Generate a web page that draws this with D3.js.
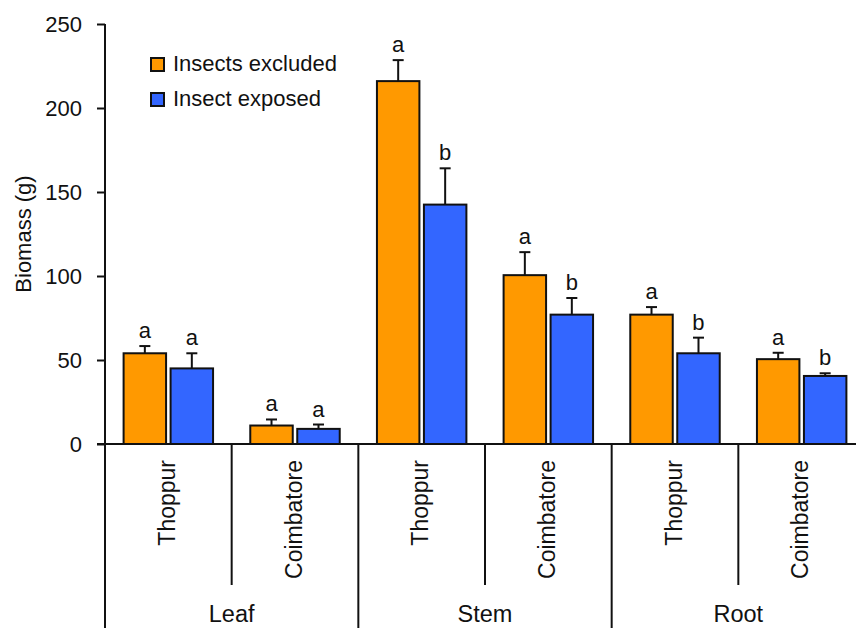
<!DOCTYPE html>
<html>
<head>
<meta charset="utf-8">
<script src="https://cdn.jsdelivr.net/npm/d3@7"></script>
<style>
  html, body { margin: 0; padding: 0; background: #fff; }
  svg { display: block; }
  text { font-family: Arial, "Liberation Sans", sans-serif; fill: #111; }
</style>
</head>
<body>
<script>
// ---- data ----
const organs = ["Leaf", "Stem", "Root"];
const sites = ["Thoppur", "Coimbatore"];
const seriesNames = ["Insects excluded", "Insect exposed"];
const excludedMeans = [54, 11, 216, 100.5, 77, 50.5];
const excludedErr   = [4.3, 3.6, 12.5, 13.7, 4.5, 3.8];
const exposedMeans  = [45, 9, 142.5, 77, 54, 40.5];
const exposedErr    = [9, 2.6, 21.6, 9.9, 9.3, 1.6];
const excludedLetters = ["a", "a", "a", "a", "a", "a"];
const exposedLetters  = ["a", "a", "b", "b", "b", "b"];
const yTicks = [0, 50, 100, 150, 200, 250];
const seriesColors = ["#FF9900", "#3366FF"];

// ---- build table ----
const cells = [];
organs.forEach(o => sites.forEach(s => cells.push({ organ: o, site: s, key: o + "|" + s })));
const rows = [];
cells.forEach((c, i) => {
  rows.push({ key: c.key, series: seriesNames[0], mean: excludedMeans[i], err: excludedErr[i], letter: excludedLetters[i] });
  rows.push({ key: c.key, series: seriesNames[1], mean: exposedMeans[i], err: exposedErr[i], letter: exposedLetters[i] });
});

const W = 856, H = 628;
const svg = d3.select("body").append("svg").attr("width", W).attr("height", H);

const axisX = 105, y0 = 444;
const x = d3.scaleBand().domain(cells.map(c => c.key)).range([axisX, 865]).padding(0);
const xs = d3.scaleBand().domain(seriesNames).range([0, x.bandwidth()]).paddingInner(0.096).paddingOuter(0.396);
const y = d3.scaleLinear().domain([0, 250]).range([y0, 24]);
const color = d3.scaleOrdinal().domain(seriesNames).range(seriesColors);

// ---- bars ----
const g = svg.append("g");
g.selectAll("rect.bar").data(rows).join("rect")
  .attr("class", "bar")
  .attr("x", d => x(d.key) + xs(d.series))
  .attr("y", d => y(d.mean))
  .attr("width", xs.bandwidth())
  .attr("height", d => y(0) - y(d.mean))
  .attr("fill", d => color(d.series))
  .attr("stroke", "#111")
  .attr("stroke-width", 2);

// error bars
const cx = d => x(d.key) + xs(d.series) + xs.bandwidth() / 2;
g.selectAll("line.err").data(rows).join("line")
  .attr("x1", cx).attr("x2", cx)
  .attr("y1", d => y(d.mean)).attr("y2", d => y(d.mean + d.err))
  .attr("stroke", "#111").attr("stroke-width", 2);
g.selectAll("line.cap").data(rows).join("line")
  .attr("x1", d => cx(d) - 5.5).attr("x2", d => cx(d) + 5.5)
  .attr("y1", d => y(d.mean + d.err)).attr("y2", d => y(d.mean + d.err))
  .attr("stroke", "#111").attr("stroke-width", 2);

// letters
g.selectAll("text.letter").data(rows).join("text")
  .attr("class", "letter")
  .attr("x", cx)
  .attr("y", d => y(d.mean + d.err) - 8)
  .attr("text-anchor", "middle")
  .attr("font-size", 22)
  .text(d => d.letter);

// ---- y axis ----
const yAxis = d3.axisLeft(y).tickValues(yTicks).tickSize(8).tickPadding(15);
const ya = svg.append("g").attr("transform", `translate(${axisX},0)`).call(yAxis);
ya.select(".domain").remove();
ya.selectAll(".tick line").attr("stroke", "#111").attr("stroke-width", 2);
ya.selectAll(".tick text").attr("font-size", 22).attr("fill", "#111")
  .attr("font-family", "Arial, 'Liberation Sans', sans-serif");
svg.append("line").attr("x1", axisX).attr("x2", axisX).attr("y1", y(250)).attr("y2", H)
  .attr("stroke", "#111").attr("stroke-width", 2);

svg.append("text")
  .attr("transform", `translate(31,${(y(250) + y(0)) / 2}) rotate(-90)`)
  .attr("text-anchor", "middle")
  .attr("font-size", 22)
  .text("Biomass (g)");

// ---- x axis ----
svg.append("line").attr("x1", axisX - 8).attr("x2", W).attr("y1", y0).attr("y2", y0)
  .attr("stroke", "#111").attr("stroke-width", 2);

// sub dividers (between sites) and major dividers (between organs)
const subDiv = organs.map(o => x(o + "|" + sites[1]));
svg.selectAll("line.sub").data(subDiv).join("line")
  .attr("x1", d => d).attr("x2", d => d).attr("y1", y0).attr("y2", 585)
  .attr("stroke", "#111").attr("stroke-width", 2);
const majDiv = organs.slice(1).map(o => x(o + "|" + sites[0]));
svg.selectAll("line.maj").data(majDiv).join("line")
  .attr("x1", d => d).attr("x2", d => d).attr("y1", y0).attr("y2", H)
  .attr("stroke", "#111").attr("stroke-width", 2);

// site labels
svg.selectAll("text.site").data(cells).join("text")
  .attr("transform", d => `translate(${x(d.key) + x.bandwidth() / 2 + 6.5},460) rotate(-90)`)
  .attr("text-anchor", "end")
  .attr("font-size", 23)
  .text(d => d.site);

// organ labels
svg.selectAll("text.organ").data(organs).join("text")
  .attr("x", o => x(o + "|" + sites[1]))
  .attr("y", 622)
  .attr("text-anchor", "middle")
  .attr("font-size", 23.5)
  .text(o => o);

// ---- legend ----
const leg = svg.append("g").attr("transform", "translate(151,58)");
const li = leg.selectAll("g").data(seriesNames).join("g")
  .attr("transform", (d, i) => `translate(0,${i * 35})`);
li.append("rect").attr("width", 13).attr("height", 13)
  .attr("fill", d => color(d)).attr("stroke", "#111").attr("stroke-width", 2);
li.append("text").attr("x", 22).attr("y", 13).attr("font-size", 22).text(d => d);
</script>
</body>
</html>
